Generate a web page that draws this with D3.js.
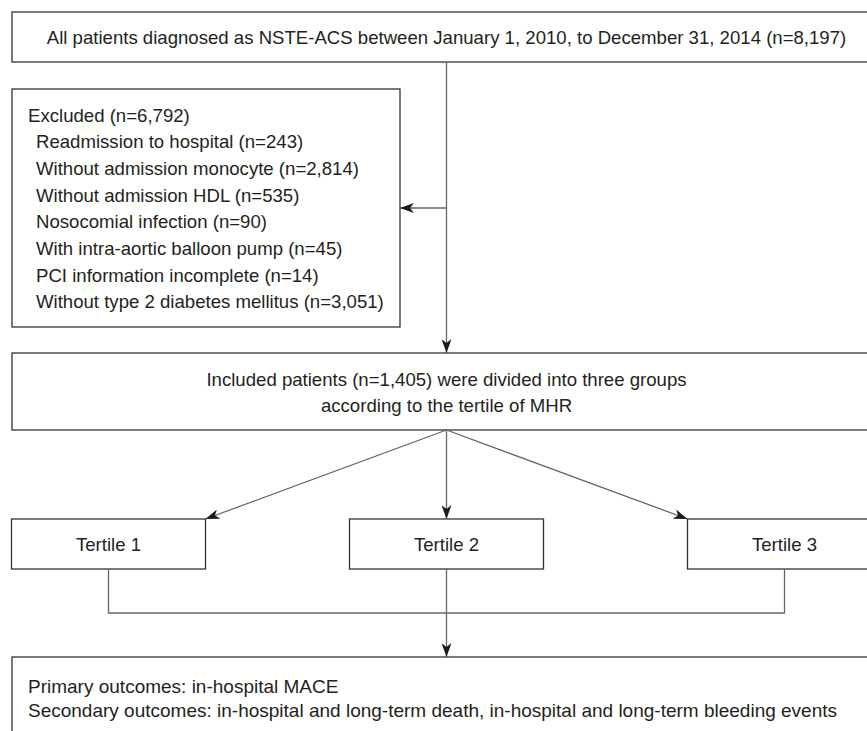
<!DOCTYPE html>
<html lang="en">
<head>
<meta charset="UTF-8" />
<title>NSTE-ACS flowchart</title>
<style>
  html, body { margin: 0; padding: 0; background: #fff; }
  svg text { font-family: "Liberation Sans", Arial, Helvetica, sans-serif; fill: #231f20; }
</style>
</head>
<body>
<svg id="chart" width="867" height="731"></svg>
<script src="https://cdn.jsdelivr.net/npm/d3@7"></script>
<script>
// flowchart content
const topText = ["All patients diagnosed as NSTE-ACS between January 1, 2010, to December 31, 2014 (n=8,197)"];
const excludedTitle = "Excluded (n=6,792)";
const excludedItems = [
  "Readmission to hospital (n=243)",
  "Without admission monocyte (n=2,814)",
  "Without admission HDL (n=535)",
  "Nosocomial infection (n=90)",
  "With intra-aortic balloon pump (n=45)",
  "PCI information incomplete (n=14)",
  "Without type 2 diabetes mellitus (n=3,051)"
];
const includedText = [
  "Included patients (n=1,405) were divided into three groups",
  "according to the tertile of MHR"
];
const groups = ["Tertile 1", "Tertile 2", "Tertile 3"];
const outcomeText = [
  "Primary outcomes: in-hospital MACE",
  "Secondary outcomes: in-hospital and long-term death, in-hospital and long-term bleeding events"
];

const svg = d3.select("#chart");
const fontSize = 18.6;
const lineH = 26.7;
const boxStroke = "#333";
const lineStroke = "#666";

// columns for the three tertile boxes
const colX = d3.scalePoint().domain(groups).range([108.5, 784.5]);
const midX = colX("Tertile 2");
const tertW = 194;

// wide boxes run past the right edge, symmetric round midX
const wideL = 12;
const wideR = midX * 2 - wideL;

// arrow head
svg.append("defs").append("marker")
  .attr("id", "head")
  .attr("markerUnits", "userSpaceOnUse")
  .attr("viewBox", "0 0 14 10")
  .attr("markerWidth", 14)
  .attr("markerHeight", 10)
  .attr("refX", 14)
  .attr("refY", 5)
  .attr("orient", "auto")
  .append("path")
  .attr("d", "M0,0 L14,5 L0,10 L4,5 Z")
  .attr("fill", "#1a1a1a");

function box(x0, y0, x1, y1) {
  svg.append("rect")
    .attr("x", x0).attr("y", y0)
    .attr("width", x1 - x0).attr("height", y1 - y0)
    .attr("fill", "none")
    .attr("stroke", boxStroke)
    .attr("stroke-width", 1.3);
}

function line(pts, arrow) {
  const p = svg.append("path")
    .attr("d", d3.line()(pts))
    .attr("fill", "none")
    .attr("stroke", lineStroke)
    .attr("stroke-width", 1.3);
  if (arrow) p.attr("marker-end", "url(#head)");
}

function label(x, y, txt, anchor, size) {
  svg.append("text")
    .attr("x", x).attr("y", y)
    .attr("text-anchor", anchor || "middle")
    .attr("dominant-baseline", "central")
    .style("font-size", (size || fontSize) + "px")
    .text(txt);
}

// top box
box(wideL, 12, wideR, 62);
topText.forEach((t, i) => label(midX, 37 + i * lineH, t));

// excluded box
box(12, 89, 400, 327);
label(28, 115, excludedTitle, "start");
excludedItems.forEach((t, i) => label(36, 115 + (i + 1) * lineH, t, "start"));

// arrows from top box
line([[midX, 62], [midX, 353]], true);
line([[midX, 208], [400, 208]], true);

// included box
box(wideL, 353, wideR, 430);
includedText.forEach((t, i) => label(midX, 379 + i * lineH, t));

// tertile boxes
const tTop = 519, tBot = 569;
groups.forEach(g => {
  const cx = colX(g);
  box(cx - tertW / 2, tTop, cx + tertW / 2, tBot);
  label(cx, 544, g);
});

// split arrows
line([[midX, 430], [colX("Tertile 1") + tertW / 2, tTop]], true);
line([[midX, 430], [midX, tTop]], true);
line([[midX, 430], [colX("Tertile 3") - tertW / 2, tTop]], true);

// merge lines
const joinY = 613;
line([[colX("Tertile 1"), tBot], [colX("Tertile 1"), joinY], [colX("Tertile 3"), joinY], [colX("Tertile 3"), tBot]]);
line([[midX, tBot], [midX, 657]], true);

// outcome box
box(wideL, 657, wideR, 760);
outcomeText.forEach((t, i) => label(28, 686 + i * 24.5, t, "start", 19));
</script>
</body>
</html>
